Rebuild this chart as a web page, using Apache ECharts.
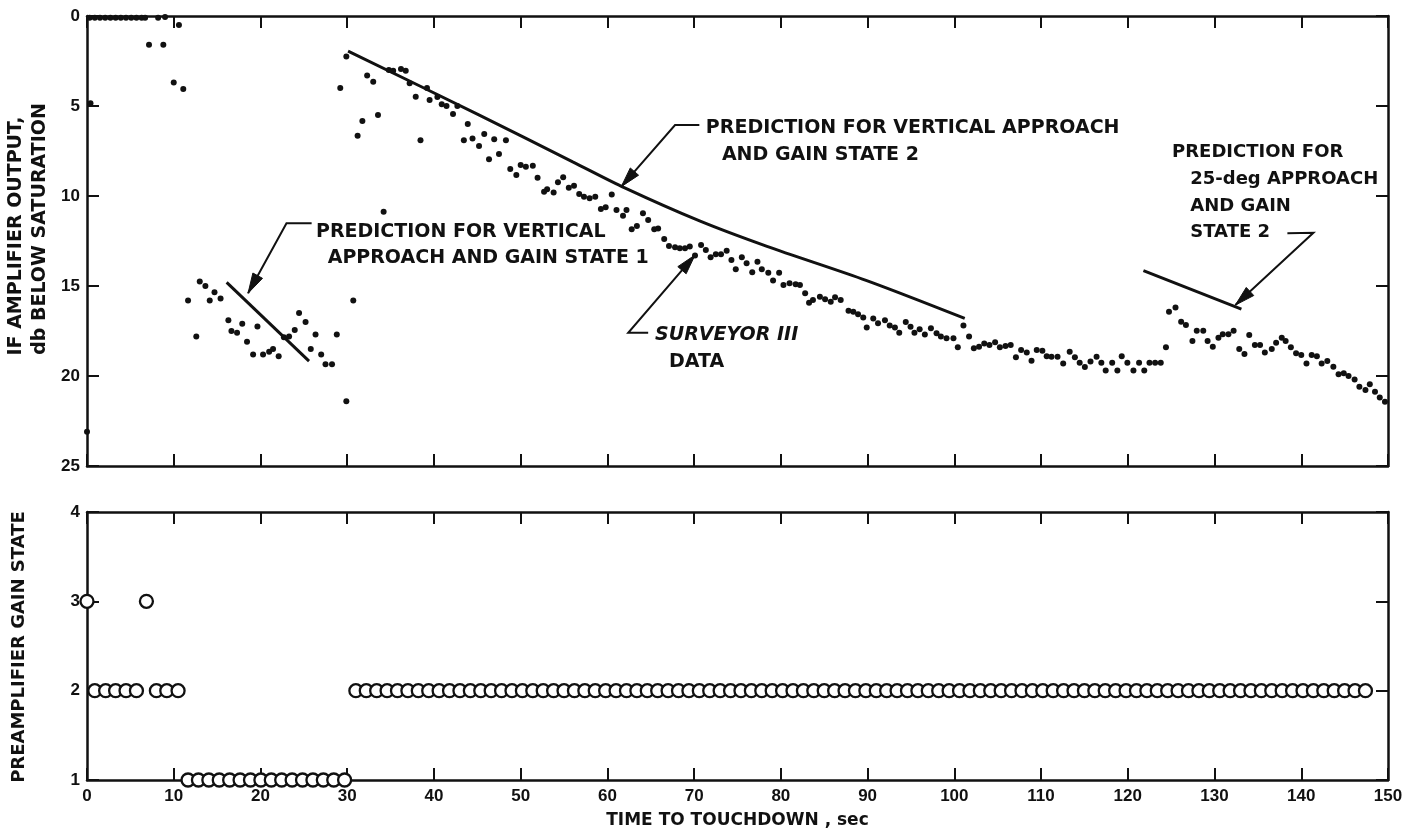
<!DOCTYPE html>
<html>
<head>
<meta charset="utf-8">
<title>Surveyor III IF amplifier output and preamplifier gain state</title>
<script src="https://cdn.jsdelivr.net/npm/echarts@6/dist/echarts.min.js"></script>
<style>
  html, body { margin: 0; padding: 0; background: #fff; }
  #chart { width: 1415px; height: 831px; }
</style>
</head>
<body>
<div id="chart"></div>
<script>
// ---- Tick labels ----
const timeTicks = [0, 10, 20, 30, 40, 50, 60, 70, 80, 90, 100, 110, 120, 130, 140, 150];
const dbTicks = [0, 5, 10, 15, 20, 25];
const gainTicks = [1, 2, 3, 4];

// ---- IF amplifier output, dB below saturation: [time to touchdown (s), dB] ----
const ifOutputEarly = [
  [0.3, 0.1], [0.9, 0.1], [1.5, 0.1], [2.1, 0.1], [2.7, 0.1], [3.3, 0.1], [3.9, 0.1],
  [4.5, 0.1], [5.1, 0.1], [5.7, 0.1], [6.3, 0.1], [6.7, 0.1],
  [0.4, 4.85], [0.0, 23.1],
  [7.15, 1.6], [8.2, 0.1], [8.8, 1.6], [9.0, 0.05], [10.0, 3.7], [10.6, 0.5], [11.1, 4.05]
];
const ifOutputGain1 = [
  [11.65, 15.8], [12.6, 17.8], [13.0, 14.75], [13.65, 15.0], [14.15, 15.8], [14.7, 15.35],
  [15.4, 15.7], [16.3, 16.9], [16.65, 17.5], [17.3, 17.6], [17.9, 17.1], [18.45, 18.1],
  [19.15, 18.8], [19.65, 17.25], [20.3, 18.8], [21.0, 18.65], [21.45, 18.5], [22.1, 18.9],
  [22.7, 17.85], [23.3, 17.8], [23.95, 17.45], [24.45, 16.5], [25.2, 17.0], [25.8, 18.5],
  [26.35, 17.7], [27.0, 18.8], [27.5, 19.35], [28.25, 19.35], [28.8, 17.7], [29.2, 4.0],
  [29.9, 2.25], [29.9, 21.4]
];
const ifOutputMid = [
  [30.7, 15.8], [31.2, 6.65], [31.75, 5.83], [32.3, 3.3], [33.0, 3.65], [33.55, 5.5],
  [34.2, 10.87], [34.8, 3.0], [35.3, 3.04], [36.2, 2.94], [36.75, 3.04], [37.2, 3.74],
  [37.9, 4.48], [38.45, 6.9], [39.2, 4.0], [39.5, 4.67], [40.4, 4.5], [40.9, 4.9],
  [41.45, 5.0], [42.2, 5.44], [42.7, 5.0], [43.45, 6.9], [43.9, 6.0], [44.45, 6.8],
  [45.2, 7.22], [45.8, 6.56], [46.35, 7.96], [46.95, 6.85], [47.5, 7.67], [48.3, 6.9],
  [48.8, 8.5], [49.5, 8.83], [50.0, 8.28], [50.6, 8.37], [51.4, 8.32], [51.95, 8.98],
  [52.7, 9.76], [53.05, 9.63], [53.8, 9.8], [54.3, 9.24], [54.9, 8.96], [55.55, 9.54],
  [56.15, 9.43], [56.75, 9.89], [57.3, 10.04], [57.95, 10.13], [58.6, 10.04], [59.25, 10.72],
  [59.8, 10.63], [60.5, 9.91],
  [61.05, 10.78], [61.8, 11.1], [62.2, 10.78], [62.8, 11.85], [63.4, 11.67], [64.1, 10.96],
  [64.7, 11.33], [65.4, 11.85], [65.85, 11.8], [66.55, 12.39], [67.1, 12.78], [67.8, 12.85],
  [68.35, 12.9], [68.95, 12.9], [69.5, 12.8], [70.1, 13.3], [70.8, 12.72], [71.35, 13.0],
  [71.9, 13.4], [72.5, 13.24], [73.1, 13.24], [73.75, 13.04], [74.3, 13.56], [74.8, 14.07],
  [75.5, 13.4], [76.05, 13.74], [76.7, 14.24], [77.3, 13.65], [77.8, 14.07], [78.55, 14.26],
  [79.1, 14.7], [79.8, 14.26], [80.3, 14.94], [81.0, 14.85], [81.7, 14.9], [82.2, 14.94],
  [82.8, 15.4], [83.25, 15.93], [83.7, 15.78], [84.5, 15.6], [85.1, 15.74], [85.75, 15.87],
  [86.25, 15.63], [86.9, 15.78], [87.8, 16.37], [88.35, 16.43], [88.9, 16.57], [89.5, 16.75]
];
const ifOutputLate = [
  [89.9, 17.3], [90.65, 16.8], [91.2, 17.07], [92.0, 16.9], [92.55, 17.2], [93.15, 17.3],
  [93.65, 17.6], [94.4, 17.0], [94.95, 17.26], [95.4, 17.6], [96.0, 17.4], [96.6, 17.7],
  [97.3, 17.35], [97.95, 17.63], [98.45, 17.8], [99.1, 17.9], [99.9, 17.9], [100.4, 18.4],
  [101.05, 17.2], [101.7, 17.8], [102.25, 18.46], [102.85, 18.37], [103.45, 18.2], [104.05, 18.28],
  [104.7, 18.13], [105.25, 18.4], [105.9, 18.33], [106.5, 18.28], [107.1, 18.96], [107.7, 18.55],
  [108.35, 18.7], [108.9, 19.15], [109.5, 18.55], [110.15, 18.6], [110.65, 18.9], [111.2, 18.93],
  [111.9, 18.93], [112.55, 19.3], [113.3, 18.65], [113.9, 18.96], [114.45, 19.26], [115.05, 19.5],
  [115.7, 19.2], [116.4, 18.93], [116.95, 19.26], [117.45, 19.7], [118.2, 19.26], [118.8, 19.7],
  [119.3, 18.9], [119.95, 19.26], [120.65, 19.7], [121.3, 19.26], [121.9, 19.7], [122.5, 19.26],
  [123.15, 19.26], [123.8, 19.26],
  [124.4, 18.4], [124.75, 16.43], [125.5, 16.2], [126.15, 16.98], [126.7, 17.17], [127.45, 18.06],
  [127.95, 17.48], [128.7, 17.48], [129.2, 18.06], [129.8, 18.37], [130.45, 17.87], [130.95, 17.68],
  [131.6, 17.68], [132.2, 17.48], [132.85, 18.5], [133.45, 18.78], [134.0, 17.72], [134.65, 18.28],
  [135.25, 18.28], [135.8, 18.7], [136.6, 18.5], [137.1, 18.15], [137.75, 17.87], [138.2, 18.06],
  [138.8, 18.4], [139.4, 18.74], [140.0, 18.83], [140.6, 19.3], [141.2, 18.83], [141.8, 18.9],
  [142.35, 19.3], [143.0, 19.17], [143.7, 19.48], [144.3, 19.9], [144.9, 19.85], [145.45, 20.0],
  [146.15, 20.2], [146.7, 20.6], [147.4, 20.78], [147.9, 20.46], [148.5, 20.87], [149.05, 21.2],
  [149.65, 21.43]
];

// ---- Predicted output curves: [time (s), dB] ----
const predVerticalGain1 = [[16.1, 14.8], [25.6, 19.17]];
const predVerticalGain2 = [
  [30.1, 1.95], [45.0, 5.45], [56.0, 8.1], [62.0, 9.55],
  [70.7, 11.4], [78.4, 12.8], [89.9, 14.7], [101.2, 16.8]
];
const pred25degGain2 = [[121.8, 14.15], [133.1, 16.28]];

// ---- Preamplifier gain state ----
const gainTime = [
  0.0, 6.85,
  0.9, 2.15, 3.3, 4.5, 5.7, 8.0, 9.2, 10.5,
  11.65, 12.85, 14.05, 15.25, 16.45, 17.65, 18.85, 20.05, 21.25, 22.45, 23.65, 24.85,
  26.05, 27.25, 28.45, 29.7,
  31.0, 32.2, 33.4, 34.6, 35.8, 37.0, 38.2, 39.4, 40.6, 41.8, 43.0, 44.2, 45.4, 46.6,
  47.8, 49.0, 50.2, 51.4, 52.6, 53.8, 55.0, 56.2, 57.4, 58.6, 59.8, 61.0, 62.2, 63.4,
  64.6, 65.8, 67.0, 68.2, 69.4, 70.6, 71.8, 73.0, 74.2, 75.4, 76.6, 77.8, 79.0, 80.2,
  81.4, 82.6, 83.8, 85.0, 86.2, 87.4, 88.6, 89.8, 91.0, 92.2, 93.4, 94.6, 95.8, 97.0,
  98.2, 99.4, 100.6, 101.8, 103.0, 104.2, 105.4, 106.6, 107.8, 109.0, 110.2, 111.4,
  112.6, 113.8, 115.0, 116.2, 117.4, 118.6, 119.8, 121.0, 122.2, 123.4, 124.6, 125.8,
  127.0, 128.2, 129.4, 130.6, 131.8, 133.0, 134.2, 135.4, 136.6, 137.8, 139.0, 140.2,
  141.4, 142.6, 143.8, 145.0, 146.2, 147.4
];
const gainState = [
  3, 3,
  2, 2, 2, 2, 2, 2, 2, 2,
  1, 1, 1, 1, 1, 1, 1, 1, 1, 1, 1, 1, 1, 1, 1, 1,
  2, 2, 2, 2, 2, 2, 2, 2, 2, 2, 2, 2, 2, 2,
  2, 2, 2, 2, 2, 2, 2, 2, 2, 2, 2, 2, 2, 2,
  2, 2, 2, 2, 2, 2, 2, 2, 2, 2, 2, 2, 2, 2,
  2, 2, 2, 2, 2, 2, 2, 2, 2, 2, 2, 2, 2, 2,
  2, 2, 2, 2, 2, 2, 2, 2, 2, 2, 2, 2,
  2, 2, 2, 2, 2, 2, 2, 2, 2, 2, 2, 2,
  2, 2, 2, 2, 2, 2, 2, 2, 2, 2, 2, 2,
  2, 2, 2, 2, 2, 2
];

// ---- Callouts, placed in the upper panel's data coordinates ----
const callouts = [
  { lines: ['PREDICTION FOR VERTICAL', 'APPROACH AND GAIN STATE 1'], size: 19,
    at: [[26.4, 12.0], [27.75, 13.45]],
    leader: [[25.9, 11.52], [23.0, 11.52], [18.57, 15.4]] },
  { lines: ['PREDICTION FOR VERTICAL APPROACH', 'AND GAIN STATE 2'], size: 19,
    at: [[71.35, 6.2], [73.2, 7.75]],
    leader: [[70.6, 6.06], [67.8, 6.06], [61.6, 9.48]] },
  { lines: ['SURVEYOR III', 'DATA'], italic: [true, false], size: 19,
    at: [[65.5, 17.7], [67.1, 19.2]],
    leader: [[64.7, 17.6], [62.4, 17.6], [70.1, 13.28]] },
  { lines: ['PREDICTION FOR', '25-deg APPROACH', 'AND GAIN', 'STATE 2'], size: 18,
    at: [[125.1, 7.55], [127.2, 9.05], [127.2, 10.55], [127.2, 12.0]],
    leader: [[138.4, 12.07], [141.4, 12.04], [132.4, 16.06]] }
];

const INK = '#111';
const tickFont = { fontFamily: 'Liberation Sans', fontWeight: 'bold', fontSize: 17, color: INK };

function frameAxis(extra) {
  return Object.assign({
    type: 'value',
    axisLine: { show: true, onZero: false, lineStyle: { color: INK, width: 2.5 } },
    axisTick: { show: true, inside: true, length: 12, lineStyle: { color: INK, width: 2 } },
    axisLabel: { show: false },
    splitLine: { show: false }
  }, extra);
}

const timeAxisCommon = { min: timeTicks[0], max: timeTicks[timeTicks.length - 1], interval: 10 };
const dbAxisCommon = { min: dbTicks[0], max: dbTicks[dbTicks.length - 1], interval: 5, inverse: true };
const gainAxisCommon = { min: gainTicks[0], max: gainTicks[gainTicks.length - 1], interval: 1 };

const chart = echarts.init(document.getElementById('chart'), null, { renderer: 'canvas' });

const option = {
  animation: false,
  backgroundColor: '#fff',
  grid: [
    { left: 87, right: 27, top: 16, height: 450 },
    { left: 87, right: 27, top: 512, height: 268 }
  ],
  xAxis: [
    frameAxis(Object.assign({ gridIndex: 0, position: 'bottom' }, timeAxisCommon)),
    frameAxis(Object.assign({ gridIndex: 0, position: 'top' }, timeAxisCommon)),
    frameAxis(Object.assign({
      gridIndex: 1, position: 'bottom',
      axisLabel: Object.assign({ show: true, margin: 8 }, tickFont),
      name: 'TIME TO TOUCHDOWN , sec', nameLocation: 'middle', nameGap: 32,
      nameTextStyle: { fontFamily: 'DejaVu Sans', fontWeight: 'bold', fontSize: 17, color: INK }
    }, timeAxisCommon)),
    frameAxis(Object.assign({ gridIndex: 1, position: 'top' }, timeAxisCommon))
  ],
  yAxis: [
    frameAxis(Object.assign({
      gridIndex: 0, position: 'left',
      axisLabel: Object.assign({ show: true, margin: 7 }, tickFont)
    }, dbAxisCommon)),
    frameAxis(Object.assign({ gridIndex: 0, position: 'right' }, dbAxisCommon)),
    frameAxis(Object.assign({
      gridIndex: 1, position: 'left',
      axisLabel: Object.assign({ show: true, margin: 7 }, tickFont)
    }, gainAxisCommon)),
    frameAxis(Object.assign({ gridIndex: 1, position: 'right' }, gainAxisCommon))
  ],
  series: [
    {
      name: 'Surveyor III data', type: 'scatter', xAxisIndex: 0, yAxisIndex: 0,
      symbol: 'circle', symbolSize: 6, clip: false,
      itemStyle: { color: INK, opacity: 1 },
      data: [].concat(ifOutputEarly, ifOutputGain1, ifOutputMid, ifOutputLate)
    },
    {
      name: 'Vertical approach, gain state 1', type: 'line', xAxisIndex: 0, yAxisIndex: 0,
      symbol: 'none', lineStyle: { color: INK, width: 3 }, data: predVerticalGain1
    },
    {
      name: 'Vertical approach, gain state 2', type: 'line', xAxisIndex: 0, yAxisIndex: 0,
      symbol: 'none', smooth: 0.3,
      lineStyle: { color: INK, width: 3 }, data: predVerticalGain2
    },
    {
      name: '25-deg approach, gain state 2', type: 'line', xAxisIndex: 0, yAxisIndex: 0,
      symbol: 'none', lineStyle: { color: INK, width: 3 }, data: pred25degGain2
    },
    {
      name: 'Preamplifier gain state', type: 'scatter', xAxisIndex: 2, yAxisIndex: 2,
      symbol: 'circle', symbolSize: 13, clip: false,
      itemStyle: { color: '#fff', borderColor: INK, borderWidth: 2.3, opacity: 1 },
      data: gainTime.map((t, i) => [t, gainState[i]])
    }
  ]
};

chart.setOption(option);

// Callout texts, leader lines and arrowheads, positioned through the upper panel's scales
function toPx(p) { return chart.convertToPixel({ gridIndex: 0 }, p); }

const graphics = [];
callouts.forEach(c => {
  c.lines.forEach((txt, i) => {
    const p = toPx(c.at[i]);
    const italic = c.italic && c.italic[i];
    graphics.push({
      type: 'text', x: p[0], y: p[1], silent: true,
      style: {
        text: txt, fill: INK,
        font: (italic ? 'italic ' : '') + 'bold ' + c.size + 'px "DejaVu Sans"',
        align: 'left', verticalAlign: 'middle',
        textAlign: 'left', textVerticalAlign: 'middle'
      }
    });
  });
  const pts = c.leader.map(toPx);
  graphics.push({
    type: 'polyline', silent: true,
    shape: { points: pts },
    style: { stroke: INK, lineWidth: 2, fill: null }
  });
  // arrowhead at the last point
  const tip = pts[pts.length - 1], prev = pts[pts.length - 2];
  const dx = tip[0] - prev[0], dy = tip[1] - prev[1];
  const len = Math.sqrt(dx * dx + dy * dy);
  const ux = dx / len, uy = dy / len;
  const headLen = 20, headHalf = 5.5;
  const bx = tip[0] - ux * headLen, by = tip[1] - uy * headLen;
  graphics.push({
    type: 'polygon', silent: true,
    shape: { points: [tip, [bx - uy * headHalf, by + ux * headHalf], [bx + uy * headHalf, by - ux * headHalf]] },
    style: { fill: INK, stroke: INK, lineWidth: 1 }
  });
});

// Rotated axis titles
[
  { text: 'IF AMPLIFIER OUTPUT,', x: 16, y: 236, size: 19 },
  { text: 'db BELOW SATURATION', x: 40, y: 229, size: 19 },
  { text: 'PREAMPLIFIER GAIN STATE', x: 19, y: 647, size: 18 }
].forEach(t => {
  graphics.push({
    type: 'text', x: t.x, y: t.y, rotation: Math.PI / 2, silent: true,
    style: {
      text: t.text, fill: INK, font: 'bold ' + t.size + 'px "DejaVu Sans"',
      align: 'center', verticalAlign: 'middle',
      textAlign: 'center', textVerticalAlign: 'middle'
    }
  });
});

chart.setOption({ graphic: graphics });
</script>
</body>
</html>
